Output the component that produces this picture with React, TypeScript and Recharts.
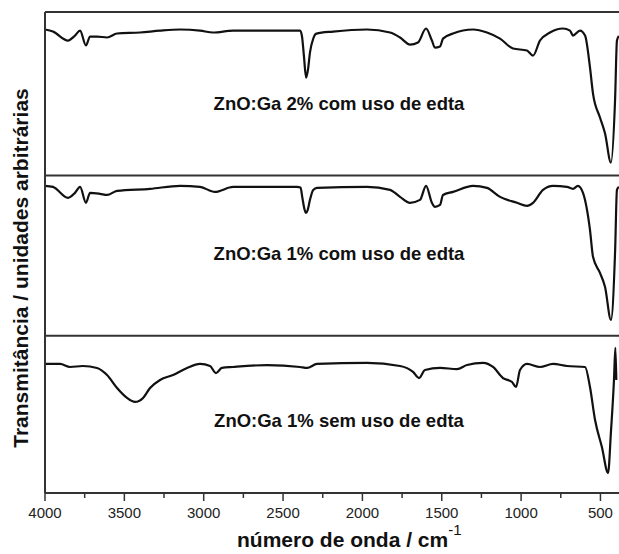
import { LineChart, Line, XAxis, YAxis, ReferenceLine, Customized } from "recharts";

// wavenumber (cm-1) / transmittance pairs, panel-local units
const WN_GA2_EDTA = [4000, 3950, 3855, 3811, 3779, 3742, 3716, 3672, 3609, 3546, 3401, 3275, 3149, 3023, 2941, 2815, 2601, 2412, 2393, 2381, 2368, 2355, 2343, 2330, 2311, 2290, 2185, 1971, 1826, 1763, 1700, 1650, 1599, 1562, 1543, 1511, 1492, 1429, 1303, 1215, 1133, 1051, 963, 925, 881, 818, 736, 692, 673, 629, 597, 566, 547, 503, 471, 434, 408, 396, 384];
const T_GA2_EDTA = [0.911, 0.898, 0.842, 0.873, 0.904, 0.811, 0.867, 0.867, 0.861, 0.886, 0.892, 0.904, 0.911, 0.904, 0.892, 0.904, 0.904, 0.904, 0.904, 0.87, 0.74, 0.611, 0.66, 0.77, 0.85, 0.885, 0.898, 0.911, 0.892, 0.861, 0.817, 0.83, 0.917, 0.842, 0.798, 0.805, 0.854, 0.886, 0.911, 0.892, 0.854, 0.792, 0.78, 0.748, 0.842, 0.892, 0.917, 0.904, 0.873, 0.904, 0.873, 0.674, 0.511, 0.362, 0.262, 0.081, 0.468, 0.842, 0.87];

const WN_GA1_EDTA = [4000, 3950, 3855, 3811, 3779, 3742, 3716, 3653, 3609, 3546, 3338, 3149, 3023, 2929, 2815, 2412, 2390, 2378, 2365, 2355, 2345, 2330, 2310, 2286, 1971, 1826, 1763, 1700, 1637, 1599, 1562, 1543, 1511, 1492, 1429, 1303, 1215, 1133, 1026, 963, 925, 862, 799, 711, 673, 642, 610, 566, 547, 503, 471, 434, 408, 396, 384];
const T_GA1_EDTA = [0.936, 0.929, 0.861, 0.892, 0.929, 0.83, 0.892, 0.886, 0.879, 0.904, 0.917, 0.936, 0.929, 0.898, 0.929, 0.929, 0.925, 0.86, 0.79, 0.767, 0.785, 0.85, 0.91, 0.923, 0.929, 0.911, 0.867, 0.83, 0.848, 0.936, 0.83, 0.805, 0.817, 0.879, 0.898, 0.936, 0.923, 0.867, 0.83, 0.811, 0.83, 0.911, 0.936, 0.929, 0.917, 0.936, 0.892, 0.661, 0.493, 0.393, 0.305, 0.1, 0.518, 0.911, 0.93];

const WN_GA1_SEM = [4000, 3905, 3842, 3761, 3672, 3609, 3546, 3483, 3433, 3382, 3338, 3275, 3193, 3105, 3023, 2960, 2923, 2885, 2815, 2601, 2393, 2349, 2286, 1971, 1763, 1681, 1643, 1606, 1511, 1404, 1341, 1240, 1177, 1114, 1057, 1032, 1007, 963, 881, 799, 711, 597, 566, 534, 491, 452, 434, 415, 406, 400];
const T_GA1_SEM = [0.805, 0.805, 0.786, 0.792, 0.78, 0.736, 0.655, 0.593, 0.568, 0.593, 0.655, 0.705, 0.736, 0.78, 0.805, 0.792, 0.748, 0.78, 0.786, 0.798, 0.786, 0.78, 0.805, 0.811, 0.792, 0.755, 0.717, 0.767, 0.78, 0.773, 0.798, 0.811, 0.786, 0.717, 0.692, 0.661, 0.767, 0.805, 0.786, 0.805, 0.792, 0.786, 0.661, 0.455, 0.287, 0.125, 0.38, 0.7, 0.905, 0.705];

const PANEL_LABELS = ["ZnO:Ga 2% com uso de edta", "ZnO:Ga 1% com uso de edta", "ZnO:Ga 1% sem uso de edta"];
const PANEL_OFFSETS = [1.98, 0.98, 0];
const X_TICKS = [4000, 3750, 3500, 3250, 3000, 2750, 2500, 2250, 2000, 1750, 1500, 1250, 1000, 750, 500];

const FONT = '"Liberation Sans", Arial, Helvetica, sans-serif';
const FRAME = "#333";

function toSeries(wn: number[], t: number[], offset: number) {
  return wn.map((w, i) => ({ wn: w, y: offset + t[i] }));
}

const series = [
  toSeries(WN_GA2_EDTA, T_GA2_EDTA, PANEL_OFFSETS[0]),
  toSeries(WN_GA1_EDTA, T_GA1_EDTA, PANEL_OFFSETS[1]),
  toSeries(WN_GA1_SEM, T_GA1_SEM, PANEL_OFFSETS[2]),
];

function WaveTick(props: any) {
  const { x, y, payload } = props;
  const major = payload.value % 500 === 0;
  return (
    <g>
      <line x1={x} x2={x} y1={y} y2={y + (major ? 8 : 5)} stroke={FRAME} strokeWidth={1.5} />
      {major && (
        <text x={x} y={y + 25} textAnchor="middle" fontSize={15} fill="#222" fontFamily={FONT}>
          {payload.value}
        </text>
      )}
    </g>
  );
}

function Texts() {
  const labelY = [103, 253, 420];
  return (
    <g fontFamily={FONT} fill="#111">
      <text
        x={20}
        y={268}
        transform="rotate(-90 20 268)"
        textAnchor="middle"
        dominantBaseline="central"
        fontSize={21}
        fontWeight="bold"
      >
        Transmitância / unidades arbitrárias
      </text>
      {PANEL_LABELS.map((s, i) => (
        <text key={s} x={339} y={labelY[i]} textAnchor="middle" dominantBaseline="central" fontSize={18.5} fontWeight="bold">
          {s}
        </text>
      ))}
      <text x={237} y={547} fontSize={21} fontWeight="bold">
        número de onda / cm
        <tspan dy={-12} fontSize={15} fontWeight="normal">-1</tspan>
      </text>
    </g>
  );
}

export default function App() {
  return (
    <div style={{ position: "absolute", left: 0, top: 0, width: 619, height: 554, overflow: "hidden", background: "#fff" }}>
      <LineChart width={625} height={554} margin={{ top: 12, right: 5.5, bottom: 31, left: 0 }}>
        <XAxis
          dataKey="wn"
          type="number"
          domain={[380, 4000]}
          reversed
          allowDataOverflow
          ticks={X_TICKS}
          interval={0}
          height={30}
          tickSize={0}
          tickMargin={0}
          tickLine={false}
          tick={<WaveTick />}
          axisLine={{ stroke: FRAME, strokeWidth: 2 }}
        />
        <YAxis
          type="number"
          domain={[0, 3]}
          width={45}
          tick={false}
          tickLine={false}
          axisLine={{ stroke: FRAME, strokeWidth: 2 }}
        />
        <ReferenceLine y={3} stroke={FRAME} strokeWidth={2} />
        <ReferenceLine y={PANEL_OFFSETS[0]} stroke={FRAME} strokeWidth={2} />
        <ReferenceLine y={PANEL_OFFSETS[1]} stroke={FRAME} strokeWidth={2} />
        {series.map((d, i) => (
          <Line
            key={i}
            data={d}
            dataKey="y"
            type="monotone"
            stroke="#111"
            strokeWidth={2.2}
            dot={false}
            isAnimationActive={false}
          />
        ))}
        <Customized component={<Texts />} />
      </LineChart>
    </div>
  );
}
